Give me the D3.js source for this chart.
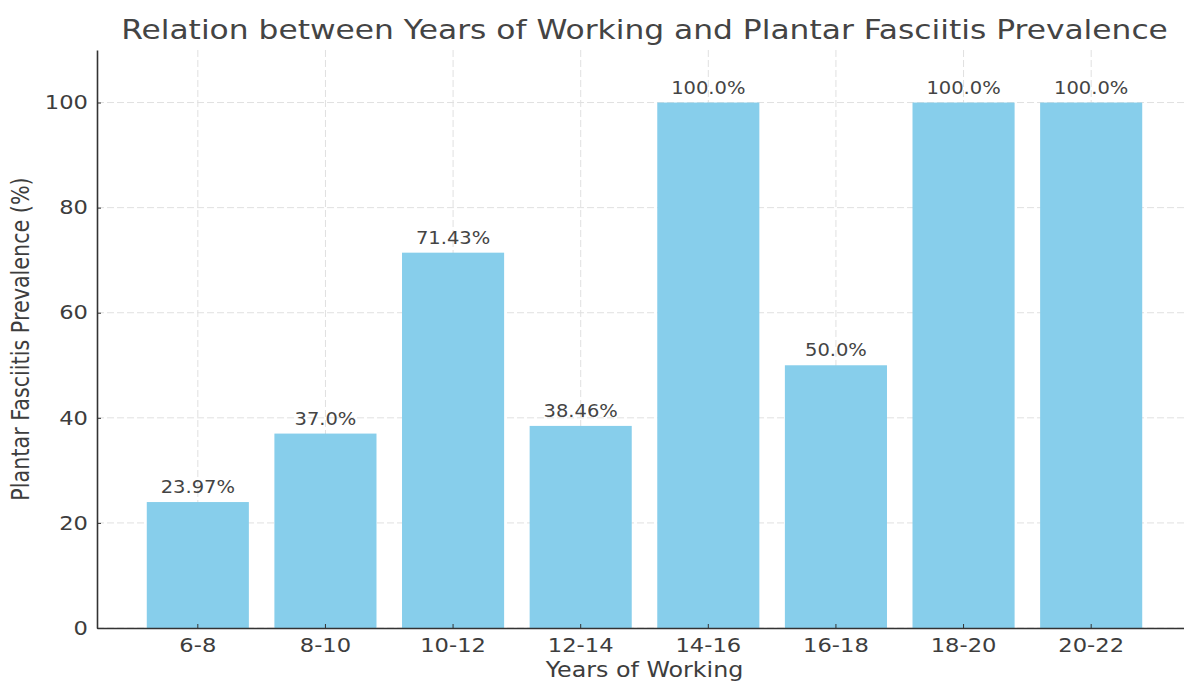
<!DOCTYPE html>
<html>
<head>
<meta charset="utf-8">
<script src="https://cdn.jsdelivr.net/npm/d3@7"></script>
<style>
  html, body { margin: 0; padding: 0; background: #fff; overflow: hidden; }
  svg { display: block; font-family: "DejaVu Sans", sans-serif; }
</style>
</head>
<body>
<svg id="chart" width="1184" height="684"></svg>
<script>
// Years-of-working groups and plantar fasciitis prevalence (%)
const categories = ["6-8", "8-10", "10-12", "12-14", "14-16", "16-18", "18-20", "20-22"];
const prevalence = [23.97, 37.0, 71.43, 38.46, 100.0, 50.0, 100.0, 100.0];
const valueLabels = ["23.97%", "37.0%", "71.43%", "38.46%", "100.0%", "50.0%", "100.0%", "100.0%"];
const yTicks = [0, 20, 40, 60, 80, 100];

const svg = d3.select("#chart");
const margin = { left: 97, top: 50, bottom: 628, right: 1192 };
const textColor = "#3d3d3d";
const sx = 1.16; // glyphs are drawn slightly wide

const x = d3.scaleBand()
  .domain(categories)
  .range([margin.left, margin.right])
  .paddingInner(0.2)
  .paddingOuter(0.39);

const y = d3.scaleLinear().domain([0, 110]).range([margin.bottom, margin.top]);

// grid
const grid = svg.append("g");
grid.selectAll("line.h").data(yTicks).join("line")
  .attr("x1", margin.left).attr("x2", margin.right)
  .attr("y1", d => y(d)).attr("y2", d => y(d))
  .attr("stroke", "#e0e0e0").attr("stroke-width", 1).attr("stroke-dasharray", "7,3");
grid.selectAll("line.v").data(categories).join("line")
  .attr("x1", d => x(d) + x.bandwidth() / 2).attr("x2", d => x(d) + x.bandwidth() / 2)
  .attr("y1", margin.top).attr("y2", margin.bottom)
  .attr("stroke", "#e0e0e0").attr("stroke-width", 1).attr("stroke-dasharray", "7,3");

// bars
svg.append("g").selectAll("rect").data(prevalence).join("rect")
  .attr("x", (d, i) => x(categories[i]))
  .attr("width", x.bandwidth())
  .attr("y", d => y(d))
  .attr("height", d => y(0) - y(d))
  .attr("fill", "#87CEEB");

// value labels
svg.append("g").selectAll("text").data(prevalence).join("text")
  .attr("transform", (d, i) => `translate(${x(categories[i]) + x.bandwidth() / 2},${y(d) - 9}) scale(${sx},1)`)
  .attr("text-anchor", "middle")
  .attr("font-size", 16.8)
  .attr("fill", "#444")
  .text((d, i) => valueLabels[i]);

// axes
const xAxis = d3.axisBottom(x).tickSizeInner(-4).tickSizeOuter(0).tickPadding(10);
const gx = svg.append("g").attr("transform", `translate(0,${margin.bottom})`).call(xAxis);
gx.select(".domain").attr("stroke", "#333").attr("stroke-width", 1.6);
gx.selectAll(".tick line").attr("stroke", "#333");
gx.selectAll(".tick text").attr("font-size", 19.5).attr("fill", textColor)
  .attr("font-family", "DejaVu Sans").attr("transform", `scale(${sx},1)`);

const yAxis = d3.axisLeft(y).tickValues(yTicks).tickSizeInner(-4).tickSizeOuter(0).tickPadding(10);
const gy = svg.append("g").attr("transform", `translate(${margin.left},0)`).call(yAxis);
gy.select(".domain").attr("stroke", "#333").attr("stroke-width", 1.6);
gy.selectAll(".tick line").attr("stroke", "#333");
gy.selectAll(".tick text").attr("font-size", 19.5).attr("fill", textColor)
  .attr("font-family", "DejaVu Sans").attr("x", -9 / sx).attr("transform", `scale(${sx},1)`);

// axis titles
svg.append("text")
  .attr("transform", `translate(${(margin.left + margin.right) / 2},677) scale(${sx},1)`)
  .attr("text-anchor", "middle").attr("font-size", 20.5).attr("fill", textColor)
  .text("Years of Working");
svg.append("text")
  .attr("transform", `translate(29,${(margin.top + margin.bottom) / 2}) rotate(-90) scale(1,${sx})`)
  .attr("text-anchor", "middle").attr("font-size", 20.7).attr("fill", textColor)
  .text("Plantar Fasciitis Prevalence (%)");

// chart title
svg.append("text")
  .attr("transform", `translate(${(margin.left + margin.right) / 2},39) scale(${sx},1)`)
  .attr("text-anchor", "middle").attr("font-size", 27).attr("fill", "#444")
  .text("Relation between Years of Working and Plantar Fasciitis Prevalence");
</script>
</body>
</html>
